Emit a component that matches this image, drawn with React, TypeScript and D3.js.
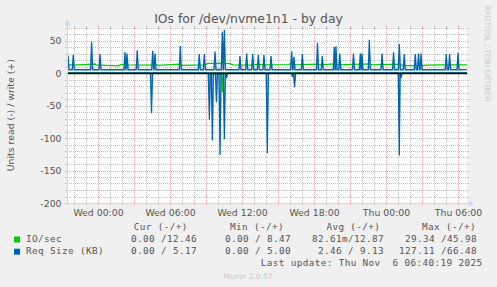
import React from 'react';
import * as d3 from 'd3';

// ---------- data (time in hours relative to Wed 00:00) ----------
const timeDomain: [number, number] = [-2.583, 30.75];
const valueDomain: [number, number] = [-200, 70];

const yTickValues = [-200, -150, -100, -50, 0, 50];
const xTickHours = [0, 6, 12, 18, 24, 30];
const xTickLabels = ['Wed 00:00', 'Wed 06:00', 'Wed 12:00', 'Wed 18:00', 'Thu 00:00', 'Thu 06:00'];

// IO/sec, write (+) level
const ioWriteLevels: [number, number][] = [
  [-2.58, 12.4], [-1.5, 12.4], [-0.25, 13.8], [-0.17, 12.4], [1.67, 11.0], [1.83, 12.4],
  [2.33, 14.0], [2.5, 12.4], [4.33, 12.2], [4.75, 14.0], [5.0, 11.6], [6.83, 13.5],
  [7.0, 11.6], [8.92, 12.5], [9.17, 14.8], [11.0, 14.5], [11.25, 12.4], [12.67, 12.0],
  [13.33, 13.5], [13.67, 12.4], [15.92, 13.0], [16.08, 15.0], [16.5, 12.4], [18.25, 13.5],
  [18.5, 12.4], [19.75, 14.0], [20.0, 12.4], [22.58, 14.0], [22.83, 12.4], [25.17, 13.5],
  [25.42, 11.5], [26.83, 11.2], [27.5, 12.0], [28.5, 12.4], [30.75, 12.46],
];
const ioWriteSpikes: [number, number][] = [[10.45, 46]];
// IO/sec, read (-)
const ioReadLevels: [number, number][] = [[-2.58, 0], [30.75, 0]];
const ioReadSpikes: [number, number][] = [[10.36, -29]];

// Req Size (KB), write (+)
const sizeWriteLevels: [number, number][] = [[-2.58, 5.0], [30.75, 5.17]];
const sizeWriteSpikes: [number, number][] = [
  [-2.5, 27], [-2.06, 28], [-0.53, 48], [0.17, 29], [2.25, 32], [2.42, 30], [3.27, 35],
  [4.56, 34], [4.75, 30], [6.86, 41.5], [8.44, 29], [8.86, 29], [9.75, 33], [10.36, 63.6],
  [10.53, 66.5], [11.83, 26], [12.39, 30], [12.89, 29], [13.36, 28], [13.83, 28], [14.42, 26],
  [16.14, 33], [16.33, 25], [17.03, 29], [18.29, 46.6], [18.69, 26], [19.69, 40], [19.83, 41],
  [20.15, 30], [21.29, 30], [21.86, 30], [22.0, 30], [22.61, 51], [23.67, 30], [24.63, 32],
  [25.11, 44.6], [25.52, 29], [26.44, 29], [26.71, 30], [26.92, 30], [29.02, 29], [29.3, 29],
  [30.0, 31],
];
// Req Size (KB), read (-)
const sizeReadLevels: [number, number][] = [[-2.58, 0], [30.75, 0]];
const sizeReadSpikes: [number, number][] = [
  [4.46, -62], [9.28, -72], [9.53, -104], [9.87, -45], [10.17, -126], [10.53, -102],
  [10.71, -8], [14.11, -123], [16.21, -6], [16.38, -22], [25.11, -127], [25.25, -8],
];

const legendHeaders = ['Cur (-/+)', 'Min (-/+)', 'Avg (-/+)', 'Max (-/+)'];
const legendNames = ['IO/sec', 'Req Size (KB)'];
const legendColors = ['#00CC00', '#0066B3'];
const ioValues = ['0.00 /12.46', '0.00 / 8.47', '82.61m/12.87', '29.34 /45.98'];
const sizeValues = ['0.00 / 5.17', '0.00 / 5.00', '2.46 / 9.13', '127.11 /66.48'];
const lastUpdate = 'Last update: Thu Nov  6 06:40:19 2025';

// ---------- helpers ----------
const SAMPLE = 1 / 12;
type P = [number, number];

function buildSeries(levels: P[], spikes: P[]): P[] {
  const sorted = [...levels].sort((a, b) => a[0] - b[0]);
  const bis = d3.bisector((d: P) => d[0]).right;
  const pts: P[] = [...sorted];
  for (const [t, v] of spikes) {
    const i = Math.max(0, bis(sorted, t) - 1);
    const base = sorted[i][1];
    pts.push([t - SAMPLE, base], [t, v], [t + SAMPLE, base]);
  }
  return pts.sort((a, b) => a[0] - b[0]);
}

function baseAt(levels: P[], t: number) {
  const bis = d3.bisector((d: P) => d[0]).right;
  const i = Math.max(0, bis(levels, t) - 1);
  return levels[i][1];
}

const SANS = '"DejaVu Sans", sans-serif';
const MONO = '"DejaVu Sans Mono", monospace';

export default function App() {
  const X0 = 67, X1 = 467, Y0 = 203, Y1 = 27.5;
  const x = d3.scaleLinear().domain(timeDomain).range([X0, X1]);
  const y = d3.scaleLinear().domain(valueDomain).range([Y0, Y1]);

  const line = d3.line<P>().x((d) => x(d[0])).y((d) => y(d[1]));

  const ioW = buildSeries(ioWriteLevels, ioWriteSpikes);
  const ioR = buildSeries(ioReadLevels, ioReadSpikes);
  const szW = buildSeries(sizeWriteLevels, sizeWriteSpikes);
  const szR = buildSeries(sizeReadLevels, sizeReadSpikes);

  const shadeW = 0.17;
  const shades: string[] = [];
  const addShades = (levels: P[], spikes: P[]) => {
    for (const [t, v] of spikes) {
      const b = baseAt(levels, t);
      const area = d3
        .area<P>()
        .x((d) => x(d[0]))
        .y0(y(b))
        .y1((d) => y(d[1]));
      shades.push(area([[t - shadeW, b], [t, v], [t + shadeW, b]]) || '');
    }
  };
  addShades(sizeWriteLevels, sizeWriteSpikes);
  addShades(sizeReadLevels, sizeReadSpikes);

  // grid
  const hGrid = d3.range(-200, 71, 10);
  const vGrid = d3.range(Math.ceil(timeDomain[0]), Math.floor(timeDomain[1]) + 1, 1);
  const minorCol = '#c4c4c4';
  const majorCol = '#eeaaaa';
  const axisCol = '#CFD6F8';
  const fontCol = '#555555';

  const colRight = [197, 291, 384, 477];
  const CH = 6; // monospace advance
  const headerStarts = [133.7, 230.1, 326.4, 422.1];

  return (
    <svg
      width={497}
      height={287}
      style={{ position: 'absolute', left: 0, top: 0, display: 'block' }}
    >
      <rect x={0} y={0} width={497} height={287} fill="#F0F0F0" />
      <rect x={X0} y={Y1} width={X1 - X0} height={Y0 - Y1} fill="#FFFFFF" />
      <defs>
        <clipPath id="plotclip">
          <rect x={X0} y={Y1 - 2} width={X1 - X0} height={Y0 - Y1 + 2} />
        </clipPath>
      </defs>

      {/* horizontal grid */}
      {hGrid.map((v) => {
        const yy = Math.round(y(v)) + 0.5;
        const major = v % 50 === 0;
        const c = major ? majorCol : minorCol;
        return (
          <g key={'h' + v} shapeRendering="crispEdges">
            <line x1={X0} x2={X1} y1={yy} y2={yy} stroke={c} strokeWidth={1} strokeDasharray="1,1" />
            <line x1={X0 - 2} x2={X0} y1={yy} y2={yy} stroke={c} strokeWidth={1} />
            <line x1={X1} x2={X1 + 2} y1={yy} y2={yy} stroke={c} strokeWidth={1} />
          </g>
        );
      })}
      {/* vertical grid */}
      {vGrid.map((h) => {
        const xx = Math.round(x(h)) + 0.5;
        const major = h % 3 === 0;
        const c = major ? majorCol : minorCol;
        return (
          <g key={'v' + h} shapeRendering="crispEdges">
            <line x1={xx} x2={xx} y1={Y1} y2={Y0} stroke={c} strokeWidth={1} strokeDasharray="1,1" />
            <line x1={xx} x2={xx} y1={Y0} y2={Y0 + 2} stroke={c} strokeWidth={1} />
            <line x1={xx} x2={xx} y1={Y1 - 2} y2={Y1} stroke={c} strokeWidth={1} />
          </g>
        );
      })}

      {/* data */}
      <g clipPath="url(#plotclip)">
        {shades.map((d, i) => (
          <path key={'s' + i} d={d} fill="#0066B3" fillOpacity={0.28} stroke="none" />
        ))}
        <path d={line(ioW) || ''} fill="none" stroke="#00CC00" strokeWidth={1.3} />
        <path d={line(ioR) || ''} fill="none" stroke="#00CC00" strokeWidth={1.3} />
        <path d={line(szW) || ''} fill="none" stroke="#0066B3" strokeWidth={1.3} />
        <path d={line(szR) || ''} fill="none" stroke="#0066B3" strokeWidth={1.3} />
        <line x1={X0} x2={X1} y1={y(0) + 0.5} y2={y(0) + 0.5} stroke="#000000" strokeWidth={1.6} />
      </g>

      {/* axes */}
      <g shapeRendering="crispEdges">
        <line x1={X0 + 0.5} x2={X0 + 0.5} y1={Y0 + 3} y2={Y1 - 4} stroke={axisCol} strokeWidth={1} />
        <line x1={X0 - 3} x2={X1 + 4} y1={Y0 + 0.5} y2={Y0 + 0.5} stroke={axisCol} strokeWidth={1} />
      </g>
      <path d={`M${X0 - 2.5},${Y1 - 2} L${X0 + 3.5},${Y1 - 2} L${X0 + 0.5},${Y1 - 8} Z`} fill={axisCol} />
      <path d={`M${X1 + 2},${Y0 - 2.5} L${X1 + 2},${Y0 + 3.5} L${X1 + 7},${Y0 + 0.5} Z`} fill={axisCol} />

      {/* y tick labels */}
      {yTickValues.map((v) => (
        <text
          key={'yl' + v}
          x={61.5}
          y={y(v) + 3.5}
          textAnchor="end"
          fontFamily={SANS}
          fontSize={9.33}
          fill={fontCol}
        >
          {v}
        </text>
      ))}
      {/* x tick labels */}
      {xTickHours.map((h, i) => (
        <text
          key={'xl' + h}
          x={x(h) + 0.5}
          y={215.5}
          textAnchor="middle"
          fontFamily={SANS}
          fontSize={9.33}
          fill={fontCol}
        >
          {xTickLabels[i]}
        </text>
      ))}

      {/* title */}
      <text x={248.5} y={23} textAnchor="middle" fontFamily={SANS} fontSize={12.4} fill={fontCol}>
        IOs for /dev/nvme1n1 - by day
      </text>
      {/* y axis label */}
      <text
        transform={`translate(14,${(Y0 + Y1) / 2}) rotate(-90)`}
        textAnchor="middle"
        fontFamily={SANS}
        fontSize={9.33}
        fill={fontCol}
      >
        Units read (-) / write (+)
      </text>
      {/* rrdtool watermark */}
      <text
        transform="translate(485,53.5) rotate(90)"
        textAnchor="middle"
        fontFamily={SANS}
        fontSize={7.5}
        fill="#cccccc"
      >
        RRDTOOL / TOBI OETIKER
      </text>

      {/* legend */}
      <g fontFamily={MONO} fontSize={9.33} fill={fontCol} style={{ whiteSpace: 'pre' }} letterSpacing={0.38}>
        {legendHeaders.map((h, i) => (
          <text key={'hd' + i} x={headerStarts[i]} y={229.8} xmlSpace="preserve">
            {h}
          </text>
        ))}
        {legendNames.map((name, r) => {
          const yy = 242 + r * 12.2;
          const vals = r === 0 ? ioValues : sizeValues;
          return (
            <g key={'lg' + r}>
              <rect x={14} y={yy - 5.5} width={6} height={6} fill={legendColors[r]} />
              <text x={26} y={yy} xmlSpace="preserve">
                {name}
              </text>
              {vals.map((v, c) => (
                <text key={'v' + c} x={colRight[c] - v.length * CH} y={yy} xmlSpace="preserve">
                  {v}
                </text>
              ))}
            </g>
          );
        })}
        <text x={482.7 - lastUpdate.length * CH} y={266.4} xmlSpace="preserve">
          {lastUpdate}
        </text>
      </g>
      <text x={248} y={279} textAnchor="middle" fontFamily={SANS} fontSize={7.5} fill="#c8c8c8">
        Munin 2.0.57
      </text>
    </svg>
  );
}
